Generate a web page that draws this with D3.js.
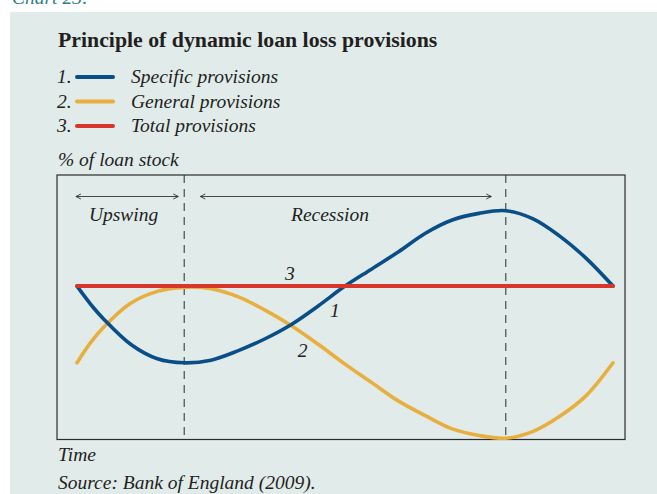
<!DOCTYPE html>
<html><head><meta charset="utf-8">
<script src="https://cdn.jsdelivr.net/npm/d3@7"></script>
<style>
html,body{margin:0;padding:0;background:#fff;}
svg{display:block;}
text{font-family:"Liberation Serif","DejaVu Serif",serif;fill:#231f20;}
</style></head><body>
<svg id="chart" width="657" height="494"></svg>
<script>
// ---- data ----
const timeDomain = [0, 10];
const valueDomain = [0, 100];
const specific = [[0,58],[0.3,50],[0.5,45.5],[1,36],[1.5,30.5],[2,29],[2.5,30],[3,33.5],[3.5,38],[4,43.5],[4.5,50.5],[5,58],[5.5,64.5],[6,71],[6.5,78],[7,83],[7.5,85.5],[8,86.5],[8.5,83.5],[9,77],[9.5,68.5],[10,58]];
const general = [[0,29],[0.25,36.5],[0.5,42.5],[1,51.5],[1.5,56],[2,57.5],[2.5,57],[3,54],[3.5,49],[4,43],[4.5,36],[5,28.5],[5.5,21.5],[6,14.5],[6.5,9],[7,4],[7.5,1.5],[8,0.5],[8.5,3],[9,8.7],[9.5,16.6],[10,29]];
const total = [[0,58],[10,58]];
const phaseBounds = [2, 8];
const legendNums = ["1.", "2.", "3."];
const legendNames = ["Specific provisions", "General provisions", "Total provisions"];
const curveLabels = [["3", 3.97, 60.3], ["1", 4.81, 46.4], ["2", 4.21, 31.3]];
// [label, arrow start, arrow end, label centre]
const phases = [["Upswing", -0.02, 1.89, 0.87], ["Recession", 2.30, 7.73, 4.72]];
const title = "Principle of dynamic loan loss provisions";
const yTitle = "% of loan stock";
const xTitle = "Time";
const source = "Source: Bank of England (2009).";

// ---- drawing ----
const colors = ["#0a4e88", "#e8ae3e", "#d9362b"];
const FS = 19.5;
const svg = d3.select("#chart");
svg.append("rect").attr("x",10).attr("y",12).attr("width",647).attr("height",482).attr("fill","#e1ebea");
svg.append("text").attr("x",12).attr("y",4).attr("font-style","italic").attr("font-size",FS)
   .style("fill","#2f8080").text("Chart 23:");

svg.append("text").attr("x",58).attr("y",47).attr("font-weight","bold").attr("font-size",21.8).text(title);

const legY = [77, 101.5, 126];
legY.forEach((y,i)=>{
  svg.append("text").attr("x",57).attr("y",y+6).attr("font-style","italic").attr("font-size",FS).text(legendNums[i]);
  svg.append("line").attr("x1",77).attr("x2",113).attr("y1",y).attr("y2",y)
     .attr("stroke",colors[i]).attr("stroke-width",4).attr("stroke-linecap","round");
  svg.append("text").attr("x",131).attr("y",y+6).attr("font-style","italic").attr("font-size",FS).text(legendNames[i]);
});
svg.append("text").attr("x",58).attr("y",166).attr("font-style","italic").attr("font-size",FS).text(yTitle);

const box = {x0:57, y0:175, x1:625, y1:439.5};
const x = d3.scaleLinear().domain(timeDomain).range([77, 613]);
const y = d3.scaleLinear().domain(valueDomain).range([439.5, 175]);

svg.append("rect").attr("x",box.x0).attr("y",box.y0).attr("width",box.x1-box.x0).attr("height",box.y1-box.y0)
   .attr("fill","none").attr("stroke","#2b2b2b").attr("stroke-width",1.2);

phaseBounds.forEach(t=>{
  svg.append("line").attr("x1",x(t)).attr("x2",x(t)).attr("y1",box.y0).attr("y2",box.y1)
    .attr("stroke","#2b2b2b").attr("stroke-width",1).attr("stroke-dasharray","8,6");
});

const defs = svg.append("defs");
["s","e"].forEach(k=>{
  defs.append("marker").attr("id","ar"+k).attr("viewBox","0 0 8 8").attr("refX",k==="e"?7:1).attr("refY",4)
    .attr("markerWidth",8).attr("markerHeight",8).attr("markerUnits","userSpaceOnUse").attr("orient","auto")
    .append("path").attr("d",k==="e"?"M2,1.5 L7,4 L2,6.5":"M6,1.5 L1,4 L6,6.5")
    .attr("fill","none").attr("stroke","#333").attr("stroke-width",0.9);
});
phases.forEach(([lab,a,b,c])=>{
  svg.append("line").attr("x1",x(a)).attr("x2",x(b)).attr("y1",196.5).attr("y2",196.5)
    .attr("stroke","#333").attr("stroke-width",0.9)
    .attr("marker-start","url(#ars)").attr("marker-end","url(#are)");
  svg.append("text").attr("x",x(c)).attr("y",221).attr("text-anchor","middle")
    .attr("font-style","italic").attr("font-size",FS).text(lab);
});

const line = d3.line().x(d=>x(d[0])).y(d=>y(d[1])).curve(d3.curveCatmullRom.alpha(0.5));
[[general,1],[specific,0],[total,2]].forEach(([data,i])=>{
  svg.append("path").datum(data).attr("d",line).attr("fill","none")
    .attr("stroke",colors[i]).attr("stroke-width",i===2?4:3.6).attr("stroke-linecap","round");
});

curveLabels.forEach(([t,a,b])=>{
  svg.append("text").attr("x",x(a)).attr("y",y(b)).attr("text-anchor","middle")
    .attr("font-style","italic").attr("font-size",FS).text(t);
});

svg.append("text").attr("x",58).attr("y",461).attr("font-style","italic").attr("font-size",FS).text(xTitle);
svg.append("text").attr("x",58).attr("y",489).attr("font-style","italic").attr("font-size",FS).text(source);
</script>
</body></html>
